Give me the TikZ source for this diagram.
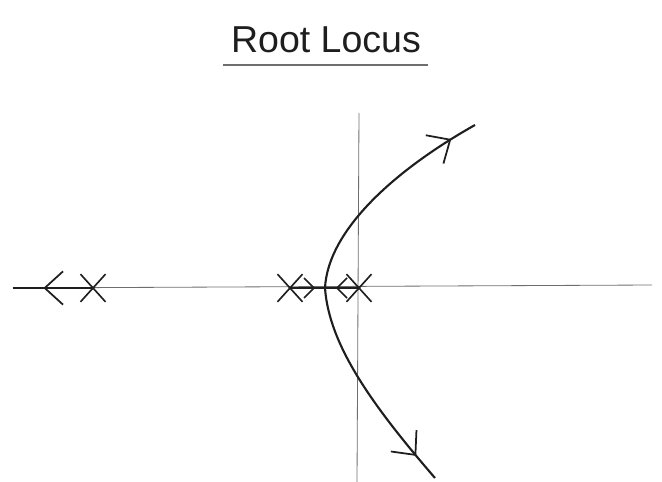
\documentclass[tikz,border=0pt]{standalone}
\usepackage{fontspec}
\setmainfont{Liberation Sans}
\usepackage{tikz}
\usetikzlibrary{arrows.meta, positioning, shapes.misc, decorations.markings}
\usepackage{xcolor}
\definecolor{ink}{HTML}{1E1E1E}
\definecolor{pencil}{HTML}{6E6E6E}

\begin{document}
\begin{tikzpicture}[x=0.03cm, y=-0.03cm,
    axisline/.style={pencil, line width=0.7pt},
    locus/.style={ink, line width=1.8pt},
    pole/.style={cross out, draw=ink, line width=1.4pt, minimum width=0.7cm, minimum height=0.78cm, inner sep=0pt},
    midarrow/.style={postaction={decorate, decoration={markings, mark=at position #1 with {\arrow{Straight Barb[length=0.55cm, width=1cm, line width=1.5pt]}}}}},
    smallarrow/.style={postaction={decorate, decoration={markings, mark=at position #1 with {\arrow{Straight Barb[length=0.3cm, width=0.6cm, line width=1.4pt]}}}}}]
    \useasboundingbox (0,0) rectangle (662,482);

    % Title
    \node[font=\fontsize{32}{36}\selectfont, text=ink] (title) at (326,40) {Root Locus};
    \draw[pencil, line width=0.9pt] (223,65) -- (428,65);

    % Axes
    \coordinate (reL) at (13,288);
    \coordinate (reR) at (652,285);
    \coordinate (imT) at (359,113);
    \coordinate (imB) at (357,482);
    \draw[axisline] (reL) -- (reR);
    \draw[axisline] (imT) -- (imB);

    % Poles
    \node[pole] (p1) at (93,288) {};
    \node[pole] (p2) at (290,288) {};
    \node[pole] (p3) at (359,288) {};
    \coordinate (brk) at (325,288);

    % Branches on the real axis
    \draw[locus, midarrow=0.62] (p1.center) -- (reL);
    \draw[locus, smallarrow=0.72] (p2.center) -- (brk);
    \draw[locus, smallarrow=0.68] (p3.center) -- (brk);

    % Complex branches
    \coordinate (upEnd) at (475,125);
    \coordinate (loEnd) at (435,478);
    \draw[locus, midarrow=0.88] (brk) .. controls (328,230) and (395,170) .. (upEnd);
    \draw[locus, midarrow=0.87] (brk) .. controls (329,345) and (372,405) .. (loEnd);
\end{tikzpicture}
\end{document}
